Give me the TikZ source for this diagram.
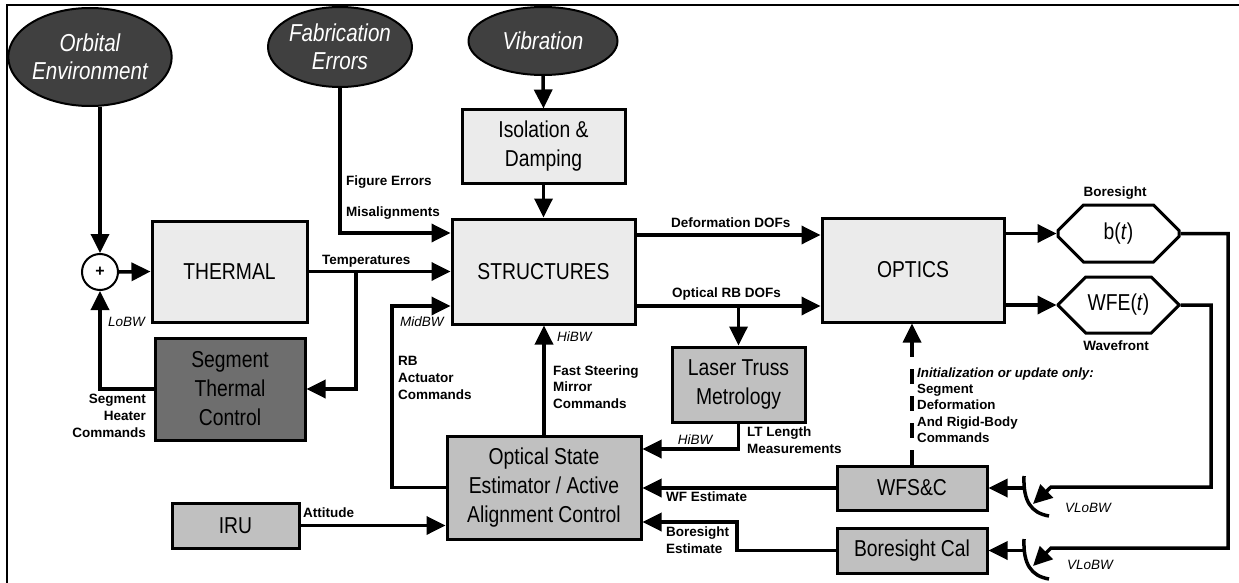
\documentclass[tikz,border=0pt]{standalone}
\usepackage{fontspec}
\setmainfont{Liberation Sans}
\newfontfamily\nar[FakeStretch=0.84]{Liberation Sans}
\usetikzlibrary{arrows.meta,shapes.geometric,shapes.misc,calc}
\definecolor{lightbox}{RGB}{235,235,235}
\definecolor{midbox}{RGB}{192,192,192}
\definecolor{darkbox}{RGB}{110,110,110}
\definecolor{ellfill}{RGB}{64,64,64}
\tikzset{
  box/.style={draw, line width=3pt, inner sep=0pt, align=center,
    font=\nar\fontsize{23}{29}\selectfont},
  lightb/.style={box, fill=lightbox},
  midb/.style={box, fill=midbox},
  darkb/.style={box, fill=darkbox},
  octo/.style={box, fill=white, chamfered rectangle,
    chamfered rectangle xsep=17pt, chamfered rectangle ysep=17pt},
  ell/.style={ellipse, draw, line width=2pt, fill=ellfill, text=white,
    inner sep=0pt, align=center, font=\nar\itshape\fontsize{24.5}{28}\selectfont},
  conn/.style={line width=3.5pt},
  arr/.style={conn, -{Triangle[length=19pt,width=18pt]}},
  lbl/.style={inner sep=0pt, align=left, font=\bfseries\fontsize{13.5}{16.8}\selectfont},
  ilbl/.style={inner sep=0pt, font=\itshape\fontsize{13.5}{16}\selectfont},
  bilbl/.style={inner sep=0pt, align=left, font=\bfseries\fontsize{13.3}{16.3}\selectfont}
}
\begin{document}
\begin{tikzpicture}[x=1pt,y=-1pt]
\useasboundingbox (0,0) rectangle (1239,583);
\draw[line width=2pt] (7,600) -- (7,5) -- (1250,5);

% disturbance sources
\node[ell, minimum width=156pt, minimum height=98pt] (orb) at (90,57) {Orbital\\Environment};
\node[ell, minimum width=141pt, minimum height=80pt] (fab) at (340,47) {Fabrication\\Errors};
\node[ell, minimum width=149pt, minimum height=68pt] (vib) at (543,41) {Vibration};

% blocks
\node[lightb, minimum width=163pt, minimum height=73pt] (iso) at (543.5,146.5) {Isolation \&\\Damping};
\node[circle, draw, line width=2pt, fill=white, minimum size=36pt, inner sep=0pt,
  font=\bfseries\fontsize{16}{16}\selectfont] (plus) at (100,272) {+};
\node[lightb, minimum width=155pt, minimum height=101pt] (thermal) at (229.5,271.5) {THERMAL};
\node[darkb, minimum width=150pt, minimum height=102pt] (stc) at (230,389) {Segment\\Thermal\\Control};
\node[lightb, minimum width=183pt, minimum height=105pt] (str) at (543.5,271.5) {STRUCTURES};
\node[lightb, minimum width=182pt, minimum height=104pt] (opt) at (913,270) {OPTICS};
\node[octo, minimum width=121pt, minimum height=57pt] (bt) at (1118.5,233.5) {b(\textit{t})};
\node[octo, minimum width=121pt, minimum height=56pt] (wfe) at (1118.5,305) {WFE(\textit{t})};
\node[midb, minimum width=133pt, minimum height=75pt] (ltm) at (738.5,384.5) {Laser Truss\\Metrology};
\node[midb, minimum width=194pt, minimum height=103pt] (ose) at (544,487.5) {Optical State\\Estimator / Active\\Alignment Control};
\node[midb, minimum width=127pt, minimum height=45pt] (iru) at (235.5,525.5) {IRU};
\node[midb, minimum width=150pt, minimum height=44pt] (wfsc) at (912,488) {WFS\&C};
\node[midb, minimum width=150pt, minimum height=45pt] (bcal) at (912,550.5) {Boresight Cal};

% connectors
\draw[arr] (plus |- orb.south) -- (plus.north);
\draw[arr] (plus.east) -- (thermal.west);
\draw[arr] (fab.south) |- ([yshift=38.5pt]str.west);
\draw[arr] (vib.south) -- (iso.north);
\draw[arr] (iso.south) -- (str.north);
\draw[arr] (thermal.east) -- (thermal.east -| str.west);
\coordinate (tb) at (356,271.5);
\draw[arr] (tb) |- (stc.east);
\draw[arr] (stc.west) -| (plus.south);
\coordinate (mid) at (392,306);
\draw[arr] (ose.west) -| (mid) -- (mid -| str.west);
\draw[arr] (ose.north) -- (ose.north |- str.south);
\coordinate (d1) at ([yshift=36.5pt]str.east);
\draw[arr] (d1) -- (d1 -| opt.west);
\coordinate (d2) at ([yshift=-34.5pt]str.east);
\draw[arr] (d2) -- (d2 -| opt.west);
\draw[arr] (d2 -| ltm.north) -- (ltm.north);
\coordinate (lt) at ([yshift=38.5pt]ose.east);
\draw[arr] (ltm.south) |- (lt);
\draw[arr] (bt.west -| opt.east) -- (bt.west);
\draw[arr] (wfe.west -| opt.east) -- (wfe.west);

% sampling switches
\draw[conn] (1024,476) .. controls (1023,501) and (1031,513) .. (1049,516);
\draw[conn] (1024,539) .. controls (1023,564) and (1031,576) .. (1049,579);
\coordinate (c1) at (1211,487);
\coordinate (s1in) at (1051,487);
\coordinate (s1tip) at (1033,504);
\draw[arr] (wfe.east) -| (c1) -- (s1in) -- (s1tip);
\coordinate (c2) at (1228,548);
\coordinate (s2in) at (1051,548);
\coordinate (s2tip) at (1033,566);
\draw[arr] (bt.east) -| (c2) -- (s2in) -- (s2tip);
\coordinate (s1) at (1024,488);
\coordinate (s2) at (1024,550.5);
\draw[arr] (s1) -- (wfsc.east);
\draw[arr] (s2) -- (bcal.east);

\draw[arr] (wfsc.west) -- (wfsc.west -| ose.east);
\coordinate (be) at (737,550.5);
\draw[arr] (bcal.west) -- (be) |- ([yshift=-34.5pt]ose.east);
\draw[arr] (iru.east) -- (iru.east -| ose.west);
\draw[arr, dash pattern=on 15pt off 12pt] (wfsc.north) -- (wfsc.north |- opt.south);

% labels
\node[lbl, anchor=west] (lfe) at (346,182) {Figure Errors};
\node[lbl, anchor=west] (lmis) at (346,213) {Misalignments};
\node[lbl, anchor=west] (ltemp) at (322,261) {Temperatures};
\node[ilbl, anchor=west] (llo) at (108,322) {LoBW};
\node[lbl, anchor=east, align=right] (lshc) at (146,416) {Segment\\Heater\\Commands};
\node[ilbl, anchor=west] (lmid) at (400,322) {MidBW};
\node[lbl, anchor=west] (lrb) at (398,378) {RB\\Actuator\\Commands};
\node[ilbl, anchor=west] (lhi1) at (557,337) {HiBW};
\node[lbl, anchor=west] (lfsm) at (553,387) {Fast Steering\\Mirror\\Commands};
\node[lbl, anchor=west] (ldef) at (671,223) {Deformation DOFs};
\node[lbl, anchor=west] (lorb) at (672,294) {Optical RB DOFs};
\node[ilbl] (lhi2) at (695,440) {HiBW};
\node[lbl, anchor=west] (lltm) at (747,440) {LT Length\\Measurements};
\node[lbl, anchor=west] (lwfe) at (666,497) {WF Estimate};
\node[lbl, anchor=west] (lbe) at (666,540) {Boresight\\Estimate};
\node[lbl, anchor=west] (latt) at (303,513) {Attitude};
\node[bilbl, anchor=west] (linit) at (917,405) {\textit{Initialization or update only:}\\Segment\\Deformation\\And Rigid-Body\\Commands};
\node[lbl] (lbore) at (1115,193) {Boresight};
\node[lbl] (lwave) at (1116,346) {Wavefront};
\node[ilbl, anchor=west] (lv1) at (1065,508) {VLoBW};
\node[ilbl, anchor=west] (lv2) at (1067,565) {VLoBW};
\end{tikzpicture}
\end{document}
